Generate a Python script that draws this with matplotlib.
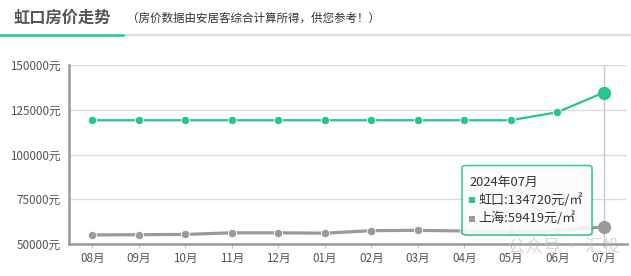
import matplotlib
matplotlib.use("Agg")
import matplotlib.pyplot as plt
from matplotlib.patches import FancyBboxPatch, Rectangle
from matplotlib.lines import Line2D

plt.rcParams['font.family'] = ['Noto Sans CJK SC', 'DejaVu Sans']

# Monthly average prices (元/㎡)
months = ["08月", "09月", "10月", "11月", "12月", "01月", "02月", "03月",
          "04月", "05月", "06月", "07月"]
hongkou = [119200, 119200, 119200, 119200, 119200, 119200, 119200, 119200,
           119200, 119200, 123700, 134720]
shanghai = [54900, 55050, 55200, 56100, 56100, 55900, 57300, 57500,
            57100, 57100, 57200, 59419]
yticks = [50000, 75000, 100000, 125000, 150000]
title = "虹口房价走势"
subtitle = "（房价数据由安居客综合计算所得，供您参考！）"
tip_title = "2024年07月"
series_names = ["虹口", "上海"]

GREEN = "#25c68d"
GRAY = "#9a9a9a"
W, H = 631, 276

fig = plt.figure(figsize=(W / 100, H / 100), dpi=100)
fig.patch.set_facecolor("white")

def fx(px):
    return px / W

def fy(py):
    return 1 - py / H

# Header: title, note and underline tabs
fig.text(fx(14), fy(18), title, fontsize=11.7, fontweight="bold",
         color="#555555", va="center", ha="left")
fig.text(fx(127), fy(18), subtitle, fontsize=8.3, color="#333333",
         va="center", ha="left")
fig.add_artist(Line2D([fx(123), 1], [fy(34.5), fy(34.5)], color="#dddddd",
                      lw=1.6, transform=fig.transFigure))
fig.add_artist(Line2D([0, fx(123)], [fy(34.5), fy(34.5)], color=GREEN,
                      lw=1.8, transform=fig.transFigure))

# Plot area
left, right, top, bottom = 69, 627, 65.3, 243.7
ax = fig.add_axes([fx(left), fy(bottom), fx(right - left), (bottom - top) / H])
x = list(range(len(months)))
ax.set_xlim(-0.5, len(months) - 0.5)
ax.set_ylim(yticks[0], yticks[-1])

ax.set_yticks(yticks)
ax.set_yticklabels([f"{v}元" for v in yticks])
ax.set_xticks(x)
ax.set_xticklabels(months)
ax.tick_params(axis="y", length=0, pad=6, labelsize=8.4, labelcolor="#555555")
ax.tick_params(axis="x", length=3, width=0.8, color="#b8c8dd", pad=3,
               labelsize=8.4, labelcolor="#555555")
ax.grid(axis="y", color="#dcdcdc", lw=1.0)
ax.set_axisbelow(True)
for side in ("top", "right"):
    ax.spines[side].set_visible(False)
for side in ("left", "bottom"):
    ax.spines[side].set_color("#999999")
    ax.spines[side].set_linewidth(1.8)

# Hover pointer at the latest month
ax.axvline(x[-1], color="#c8c8c8", lw=1.0, zorder=1)

ax.plot(x, hongkou, color=GREEN, lw=1.6, marker="o", ms=6.0,
        mec="white", mew=0.6, zorder=3)
ax.plot(x, shanghai, color=GRAY, lw=2.3, marker="o", ms=6.0,
        mec="white", mew=0.6, zorder=3)
ax.plot(x[-1], hongkou[-1], "o", color=GREEN, ms=8.5, zorder=4)
ax.plot(x[-1], shanghai[-1], "o", color=GRAY, ms=8.5, zorder=4)

# Tooltip box
tx0, ty0, tx1, ty1 = 462, 165.5, 592, 235
shadow = FancyBboxPatch((fx(tx0 + 1.5), fy(ty1 + 1.5)), fx(tx1 - tx0),
                        (ty1 - ty0) / H,
                        boxstyle="round,pad=0,rounding_size=0.008",
                        transform=fig.transFigure, fc="#000000", ec="none",
                        alpha=0.08, zorder=9)
box = FancyBboxPatch((fx(tx0), fy(ty1)), fx(tx1 - tx0), (ty1 - ty0) / H,
                     boxstyle="round,pad=0,rounding_size=0.008",
                     transform=fig.transFigure, fc="white", ec=GREEN,
                     lw=1.2, alpha=0.88, zorder=10)
fig.add_artist(shadow)
fig.add_artist(box)
fig.text(fx(469), fy(182), tip_title, fontsize=9.3, color="#333333",
         va="center", ha="left", zorder=11)
for i, (name, val, col) in enumerate(
        [(series_names[0], hongkou[-1], GREEN),
         (series_names[1], shanghai[-1], GRAY)]):
    yy = 200 + i * 18.5
    fig.add_artist(Rectangle((fx(469), fy(yy + 3)), fx(6), 6 / H,
                             transform=fig.transFigure, fc=col, ec="none",
                             zorder=11))
    fig.text(fx(478), fy(yy), f"{name}:{val}元/㎡", fontsize=9.4,
             color="#333333", va="center", ha="left", zorder=11)

# Faint publisher mark
fig.text(fx(508), fy(246), "公众号 · 汇投", fontsize=12.5, color="#bbbbbb",
         alpha=0.55, va="center", ha="left", zorder=12)

fig.savefig("out.png", dpi=100, facecolor="white")
